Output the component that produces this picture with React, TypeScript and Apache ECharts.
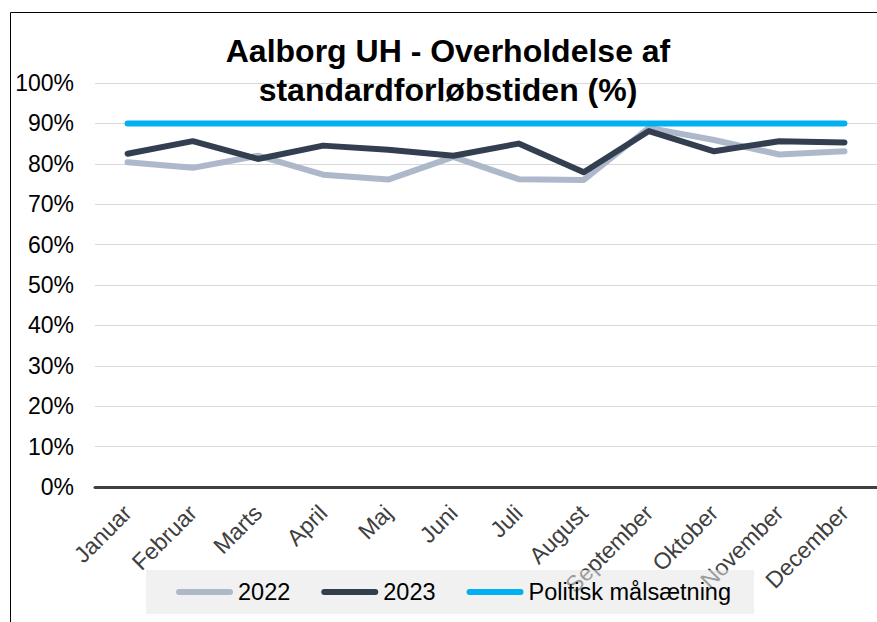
import React, { useEffect, useRef } from "react";
import * as echarts from "echarts";

const months = ["Januar", "Februar", "Marts", "April", "Maj", "Juni", "Juli", "August", "September", "Oktober", "November", "December"];
const values2022 = [80.4, 79.0, 82.0, 77.3, 76.1, 81.7, 76.2, 76.0, 88.9, 85.9, 82.3, 83.1];
const values2023 = [82.5, 85.6, 81.2, 84.5, 83.5, 82.0, 85.0, 77.9, 88.1, 83.1, 85.6, 85.3];
const target = [90, 90, 90, 90, 90, 90, 90, 90, 90, 90, 90, 90];
const seriesNames = ["2022", "2023", "Politisk målsætning"];
const seriesColors = ["#adb9ca", "#333f50", "#00b0f0"];
const titleText = "Aalborg UH - Overholdelse af\nstandardforløbstiden (%)";

const FONT = "'Liberation Sans', Arial, sans-serif";
const capsule = "path://M3,0L54,0A3,3,0,0,1,54,6L3,6A3,3,0,0,1,3,0Z";

export default function App() {
  const ref = useRef<HTMLDivElement>(null);
  useEffect(() => {
    if (!ref.current) return;
    const chart = echarts.init(ref.current, null, { renderer: "svg" });
    const data = [values2022, values2023, target];
    chart.setOption({
      animation: false,
      backgroundColor: "#ffffff",
      textStyle: { fontFamily: FONT },
      graphic: [
        {
          type: "rect",
          z: -10,
          shape: { x: 10.5, y: 12.5, width: 900, height: 700 },
          style: { fill: "none", stroke: "#000000", lineWidth: 1 },
        },
        {
          type: "text",
          z: 10,
          style: {
            text: titleText,
            x: 448,
            y: 31,
            textAlign: "center",
            textVerticalAlign: "top",
            fontFamily: FONT,
            fontSize: 32,
            fontWeight: "bold",
            lineHeight: 39,
            fill: "#000000",
          },
        },
      ],
      grid: { left: 95, top: 83, width: 793, height: 404, containLabel: false },
      legend: {
        left: 146,
        top: 570,
        data: seriesNames.map((n) => ({ name: n, icon: capsule })),
        itemWidth: 57,
        itemHeight: 6,
        itemGap: 31,
        backgroundColor: "rgba(230,230,230,0.55)",
        padding: [10, 23, 10, 30],
        textStyle: { fontSize: 23.5, color: "#000000", fontFamily: FONT },
      },
      xAxis: {
        type: "category",
        data: months,
        boundaryGap: true,
        axisLine: { show: true, lineStyle: { color: "#404040", width: 3 } },
        axisTick: { show: false },
        axisLabel: { rotate: 45, margin: 22, fontSize: 23, color: "#404040", fontFamily: FONT },
        splitLine: { show: false },
      },
      yAxis: {
        type: "value",
        min: 0,
        max: 100,
        interval: 10,
        axisLine: { show: false },
        axisTick: { show: false },
        axisLabel: { formatter: "{value}%", fontSize: 23, color: "#000000", margin: 21, fontFamily: FONT },
        splitLine: { lineStyle: { color: "#d9d9d9", width: 1 } },
      },
      series: seriesNames.map((name, i) => ({
        name,
        type: "line",
        data: data[i],
        symbol: "none",
        color: seriesColors[i],
        lineStyle: { width: 6, color: seriesColors[i], cap: "round", join: "round" },
        itemStyle: { color: seriesColors[i] },
      })),
    });
    return () => chart.dispose();
  }, []);
  return <div ref={ref} style={{ position: "fixed", left: 0, top: 0, width: 877, height: 622, background: "#fff" }} />;
}
